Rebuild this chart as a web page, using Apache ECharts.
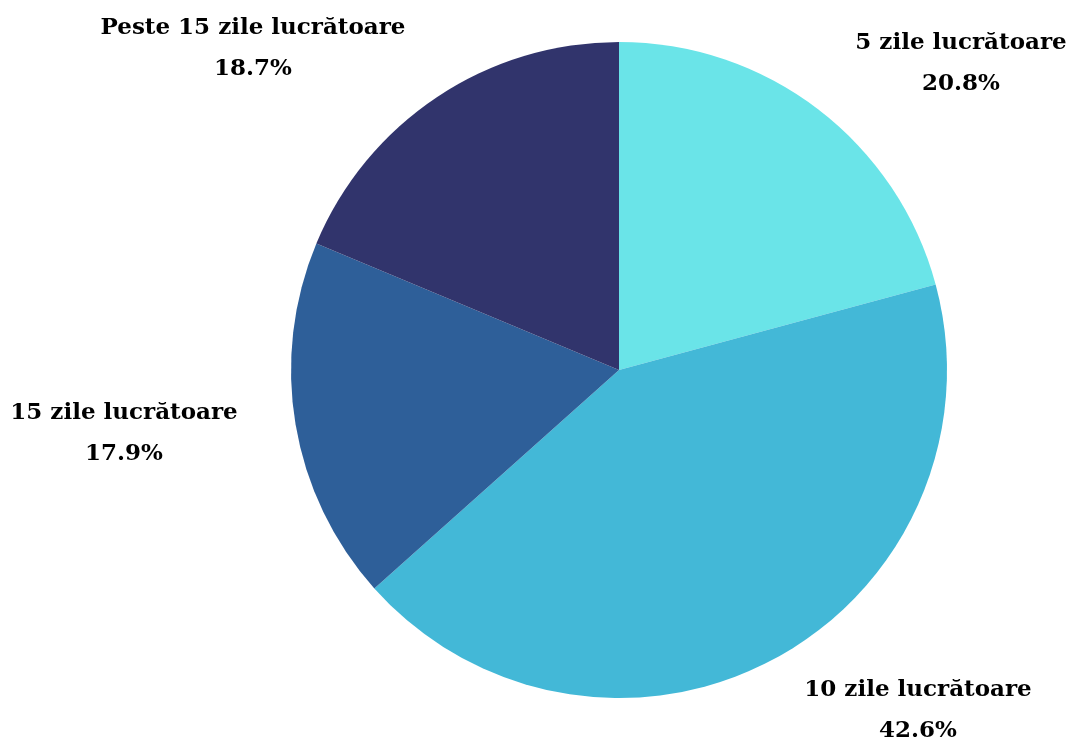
<!DOCTYPE html>
<html>
<head>
<meta charset="utf-8">
<script src="https://cdn.jsdelivr.net/npm/echarts@6/dist/echarts.min.js"></script>
<style>
  html, body { margin: 0; padding: 0; background: #fff; }
  #chart { width: 1070px; height: 743px; }
</style>
</head>
<body>
<div id="chart"></div>
<script>
// data
const categories = ['5 zile lucrătoare', '10 zile lucrătoare', '15 zile lucrătoare', 'Peste 15 zile lucrătoare'];
const values = [20.8, 42.6, 17.9, 18.7];
const colors = ['#6ae4e8', '#43b8d7', '#2e5f99', '#31346c'];

// where each label block sits (center of the two lines)
const labelSpots = [[961, 64], [918, 711], [124, 434], [253, 49]];

let chart = echarts.init(document.getElementById('chart'));
let option = {
  animation: false,
  series: [
    {
      type: 'pie',
      center: [619, 370],
      radius: 328,
      startAngle: 90,
      clockwise: true,
      data: categories.map((c, i) => ({ name: c, value: values[i], itemStyle: { color: colors[i] } })),
      label: {
        show: true,
        position: 'outside',
        formatter: p => p.name + '\n' + p.value.toFixed(1) + '%',
        fontFamily: 'DejaVu Serif',
        fontWeight: 'bold',
        fontSize: 23,
        lineHeight: 41,
        color: '#000',
        align: 'center',
        overflow: 'none'
      },
      labelLine: { show: false },
      labelLayout: function (params) {
        const s = labelSpots[params.dataIndex];
        return { x: s[0], y: s[1], align: 'center', verticalAlign: 'middle', width: 400 };
      },
      emphasis: { disabled: true }
    }
  ]
};
chart.setOption(option);
</script>
</body>
</html>
